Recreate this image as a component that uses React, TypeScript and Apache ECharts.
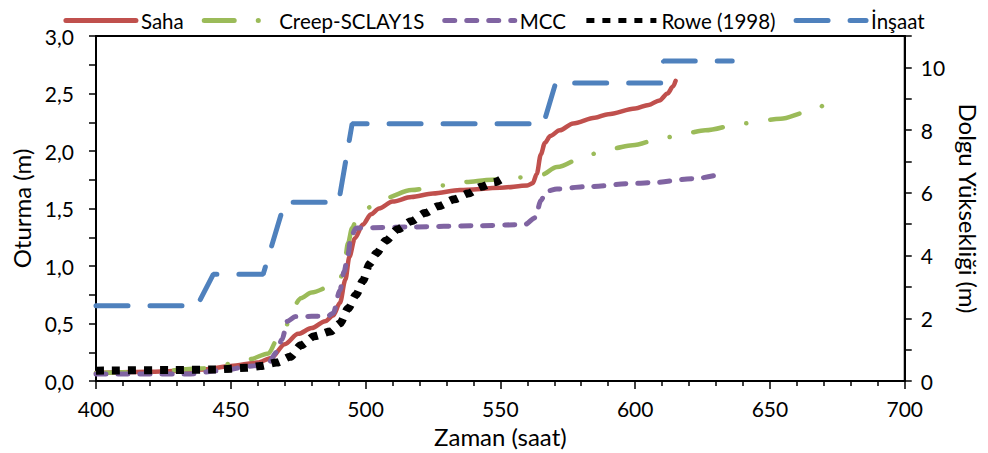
import React, { useEffect, useRef } from "react";
import * as echarts from "echarts";

const legendNames = ["Saha", "Creep-SCLAY1S", "MCC", "Rowe (1998)", "İnşaat"];

const sahaData: [number, number][] = [
  [400, 0.07], [420, 0.08], [440, 0.1], [450, 0.13], [460, 0.16], [465, 0.2], [470, 0.32],
  [475, 0.41], [480, 0.46], [485, 0.52], [488, 0.57], [490.5, 0.68], [492.5, 0.88], [494, 1.08],
  [496, 1.24], [499, 1.36], [502, 1.45], [505, 1.5], [510, 1.56], [517, 1.6], [525, 1.63],
  [535, 1.66], [550, 1.68], [560, 1.7], [562, 1.72], [563.5, 1.8], [565, 1.97], [566.5, 2.07],
  [568.5, 2.13], [572, 2.18], [577, 2.24], [585, 2.29], [590, 2.32], [600, 2.37], [605, 2.4],
  [609, 2.44], [612, 2.5], [614, 2.56], [615, 2.61],
];

const creepData: [number, number][] = [
  [400, 0.07], [420, 0.08], [440, 0.11], [450, 0.15], [457, 0.19], [464, 0.24], [467, 0.35],
  [470, 0.45], [473, 0.64], [476, 0.72], [480, 0.77], [488, 0.83], [490.5, 0.88], [492, 1.0],
  [493.5, 1.2], [495, 1.33], [497, 1.43], [500, 1.5], [507, 1.59], [517, 1.66], [528, 1.7],
  [536, 1.73], [547, 1.75], [557, 1.77], [565, 1.79], [571, 1.86], [583, 1.97], [591, 2.02],
  [599, 2.05], [610, 2.11], [618, 2.15], [626, 2.18], [640, 2.24], [654, 2.28], [664, 2.34],
  [668, 2.37], [671, 2.42], [674, 2.47],
];

const mccData: [number, number][] = [
  [400, 0.06], [434, 0.06], [446, 0.09], [458, 0.13], [464, 0.16], [467, 0.25], [469, 0.36],
  [471, 0.52], [474, 0.56], [486, 0.565], [488, 0.59], [490.5, 0.79], [492, 0.95],
  [493.5, 1.1], [494.5, 1.25], [496.5, 1.33], [517, 1.34], [541, 1.35], [559, 1.36],
  [563, 1.42], [565, 1.57], [567, 1.65], [571, 1.67], [582, 1.69], [601, 1.72], [606, 1.725],
  [622, 1.76], [630, 1.79],
];

const roweData: [number, number][] = [
  [400, 0.09], [427, 0.095], [444, 0.1], [456, 0.115], [461, 0.13], [467, 0.16], [472, 0.21],
  [476, 0.31], [481, 0.39], [487, 0.43], [490.5, 0.5], [493.5, 0.63], [496.5, 0.75],
  [499, 0.87], [501.5, 1.02], [504, 1.11], [507.5, 1.22], [512, 1.32], [517, 1.39],
  [522, 1.46], [527, 1.52], [533, 1.58], [538, 1.63], [543, 1.69], [548, 1.73], [550, 1.75],
];

const insaatData: [number, number][] = [
  [400, 2.4], [437.5, 2.4], [443.5, 3.4], [462, 3.4], [470, 5.7], [490, 5.7], [495, 8.2],
  [566, 8.2], [570.5, 9.5], [609.5, 9.5], [610.5, 10.2], [636, 10.2],
];

const FONT = "Lato";

export default function App() {
  const ref = useRef<HTMLDivElement>(null);
  useEffect(() => {
    document.body.style.margin = "0";
    if (!ref.current) return;
    const chart = echarts.init(ref.current, undefined, { renderer: "svg" });
    const axisLine = { show: true, lineStyle: { color: "#000", width: 2 } };
    const tickStyle = { color: "#000", width: 1.5 };
    const titleStyle = { fontSize: 24, color: "#000", fontFamily: FONT };
    chart.setOption({
      animation: false,
      textStyle: { fontFamily: FONT },
      grid: { left: 96, right: 63, top: 36, bottom: 68, show: true, borderColor: "#000", borderWidth: 2 },
      legend: {
        data: legendNames,
        top: 5,
        left: "center",
        itemWidth: 70,
        itemHeight: 14,
        itemGap: 18,
        itemStyle: { opacity: 0 },
        lineStyle: { width: 5 },
        textStyle: { fontSize: 20.5, color: "#000", fontFamily: FONT },
      },
      xAxis: {
        type: "value",
        min: 400,
        max: 700,
        interval: 50,
        name: "Zaman (saat)",
        nameLocation: "middle",
        nameGap: 43,
        nameTextStyle: titleStyle,
        axisLine,
        axisTick: { show: true, length: 8, lineStyle: tickStyle },
        minorTick: { show: true, splitNumber: 5, length: 5, lineStyle: tickStyle },
        axisLabel: { fontSize: 21, color: "#000", margin: 17, fontFamily: FONT },
        splitLine: { show: false },
      },
      yAxis: [
        {
          type: "value",
          min: 0,
          max: 3,
          interval: 0.5,
          name: "Oturma (m)",
          nameLocation: "middle",
          nameGap: 62,
          nameTextStyle: titleStyle,
          axisLine,
          axisTick: { show: true, length: 7, lineStyle: tickStyle },
          minorTick: { show: true, splitNumber: 2, length: 7, lineStyle: tickStyle },
          axisLabel: {
            fontSize: 21,
            color: "#000",
            margin: 22,
            fontFamily: FONT,
            formatter: (v: number) => v.toFixed(1).replace(".", ","),
          },
          splitLine: { show: false },
        },
        {
          type: "value",
          position: "right",
          min: 0,
          max: 11,
          interval: 2,
          name: "Dolgu Yüksekliği (m)",
          nameLocation: "middle",
          nameRotate: -90,
          nameGap: 34,
          nameTextStyle: titleStyle,
          axisLine,
          axisTick: { show: true, length: 7, lineStyle: tickStyle },
          minorTick: { show: true, splitNumber: 2, length: 7, lineStyle: tickStyle },
          axisLabel: { fontSize: 21, color: "#000", margin: 16, fontFamily: FONT, showMaxLabel: false },
          splitLine: { show: false },
        },
      ],
      series: [
        {
          name: legendNames[0],
          type: "line",
          data: sahaData,
          symbol: "none",
          smooth: 0.3,
          smoothMonotone: "x",
          itemStyle: { color: "#C0504D" },
          lineStyle: { color: "#C0504D", width: 4.5, cap: "round" },
        },
        {
          name: legendNames[1],
          type: "line",
          data: creepData,
          symbol: "none",
          smooth: 0.3,
          smoothMonotone: "x",
          itemStyle: { color: "#9BBB59" },
          lineStyle: { color: "#9BBB59", width: 4.5, cap: "round", type: [30, 24, 0.1, 24] },
        },
        {
          name: legendNames[2],
          type: "line",
          data: mccData,
          symbol: "none",
          smooth: 0.3,
          smoothMonotone: "x",
          itemStyle: { color: "#8064A2" },
          lineStyle: { color: "#8064A2", width: 5, cap: "round", type: [10, 12] },
        },
        {
          name: legendNames[3],
          type: "line",
          data: roweData,
          symbol: "none",
          smooth: 0.3,
          smoothMonotone: "x",
          itemStyle: { color: "#000" },
          lineStyle: { color: "#000", width: 8, cap: "butt", type: [8, 8] },
        },
        {
          name: legendNames[4],
          type: "line",
          yAxisIndex: 1,
          data: insaatData,
          symbol: "none",
          itemStyle: { color: "#4F81BD" },
          lineStyle: { color: "#4F81BD", width: 5, cap: "round", type: [32, 22] },
        },
      ],
    });
    return () => chart.dispose();
  }, []);
  return <div ref={ref} style={{ width: 988, height: 453 }} />;
}
